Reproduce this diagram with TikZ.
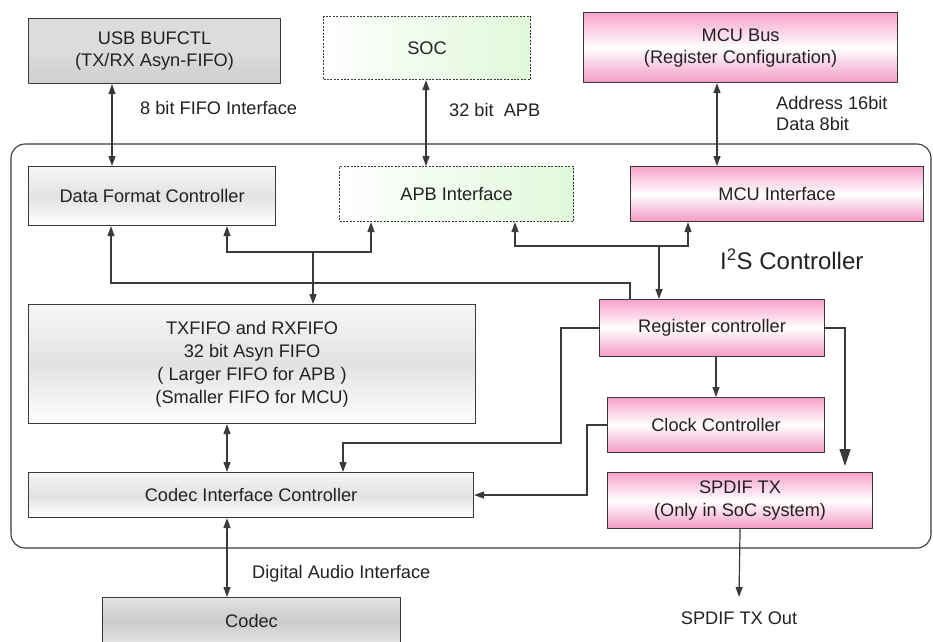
\documentclass[tikz,border=0pt]{standalone}
\usepackage{fontspec}
\setmainfont{Liberation Sans}
\usetikzlibrary{arrows.meta,calc}
\definecolor{bord}{HTML}{3A3A3A}
\definecolor{txt}{HTML}{222222}
\definecolor{gA}{HTML}{DCDCDC}
\definecolor{gB}{HTML}{CFCFCF}
\definecolor{lA}{HTML}{F7F7F7}
\definecolor{lB}{HTML}{E2E2E2}
\definecolor{cA}{HTML}{E4E4E4}
\definecolor{cB}{HTML}{CACACA}
\definecolor{pA}{HTML}{F8A2CC}
\definecolor{pB}{HTML}{F39AC6}
\definecolor{grn}{HTML}{E0F9DA}
\begin{document}
\begin{tikzpicture}[x=1pt,y=-1pt,
  >={Triangle[length=10pt,width=7pt]},
  blk/.style={draw=bord, line width=1.1pt, anchor=north west, inner sep=0pt,
    align=center, text=txt, font=\fontsize{18.2}{22}\selectfont},
  graybox/.style={blk, top color=gA, bottom color=gB, middle color=gA},
  litebox/.style={blk, top color=lA, bottom color=white, middle color=lB},
  codecbox/.style={blk, top color=cA, bottom color=cA, middle color=cB},
  pinkbox/.style={blk, top color=pA, bottom color=pB, middle color=white},
  greenbox/.style={blk, dash pattern=on 2pt off 1.4pt, left color=white, right color=grn},
  conn/.style={draw=bord, line width=1.2pt},
  lbl/.style={anchor=west, inner sep=0pt, text=txt, align=left, font=\fontsize{18.2}{21}\selectfont}
]
\useasboundingbox (0,0) rectangle (933,641);
\clip (0,0) rectangle (933,641);
\fill[white] (0,0) rectangle (933,641);

% outer I2S controller frame
\draw[draw=bord, line width=1.1pt, rounded corners=14pt] (11,144) rectangle (931,548);

% blocks
\node[graybox, minimum width=252pt, minimum height=65pt] (usb) at (28,18) {USB BUFCTL\\(TX/RX Asyn-FIFO)};
\node[greenbox, minimum width=207pt, minimum height=63pt] (soc) at (323,16) {SOC};
\node[pinkbox, minimum width=314pt, minimum height=70pt] (mcub) at (583,12) {MCU Bus\\(Register Configuration)};
\node[litebox, minimum width=247pt, minimum height=59pt] (dfc) at (28,166) {Data Format Controller};
\node[greenbox, minimum width=234pt, minimum height=55pt] (apb) at (339,166) {APB Interface};
\node[pinkbox, minimum width=293pt, minimum height=55pt] (mcui) at (630,166) {MCU Interface};
\node[litebox, minimum width=447pt, minimum height=119pt, font=\fontsize{18.2}{23}\selectfont] (txf) at (28,304)
  {TXFIFO and RXFIFO\\32 bit Asyn FIFO\\( Larger FIFO for APB )\\(Smaller FIFO for MCU)};
\node[pinkbox, minimum width=225pt, minimum height=57pt] (reg) at (599,299) {Register controller};
\node[pinkbox, minimum width=217pt, minimum height=55pt] (clk) at (607,397) {Clock Controller};
\node[litebox, minimum width=445pt, minimum height=45pt] (cic) at (28,472) {Codec Interface Controller};
\node[pinkbox, minimum width=265pt, minimum height=56pt, font=\fontsize{18.2}{23}\selectfont] (spdif) at (607,472) {SPDIF TX\\(Only in SoC system)};
\node[codecbox, minimum width=298pt, minimum height=46pt] (codec) at (102,597) {Codec};

% labels
\node[lbl] (l1) at (140,108) {8 bit FIFO Interface};
\node[lbl] (l2) at (449,110) {32 bit\ \ APB};
\node[lbl] (l3) at (776,113) {Address 16bit\\Data 8bit};
\node[lbl] (l4) at (252,574) {Digital Audio Interface};
\node[lbl, font=\fontsize{24}{28}\selectfont] (l5) at (720,259) {I\textsuperscript{2}S Controller};
\node[anchor=center, inner sep=0pt, text=txt, font=\fontsize{18.2}{21}\selectfont] (out) at (739,618) {SPDIF TX Out};

% helper coordinates
\coordinate (c111) at (111,0);
\coordinate (c112) at (112,0);
\coordinate (c227) at (227,0);
\coordinate (c343) at (343,0);
\coordinate (c371) at (371,0);
\coordinate (c426) at (426,0);
\coordinate (c515) at (515,0);
\coordinate (c630) at (630,0);
\coordinate (c688) at (688,0);
\coordinate (c716) at (716,0);
\coordinate (c717) at (717,0);
\coordinate (c845) at (845,0);
\coordinate (j1) at (313,252);
\coordinate (j2) at (659,246);
\coordinate (sout) at (739,597);

% external links
\draw[conn,<->] (usb.south -| c112) -- (dfc.north -| c112);
\draw[conn,<->] (soc.south -| c426) -- (apb.north -| c426);
\draw[conn,<->] (mcub.south -| c717) -- (mcui.north -| c717);

% internal bus tree 1
\draw[conn,->] (j1) -| (dfc.south -| c227);
\draw[conn,->] (j1) -| (apb.south -| c371);
\draw[conn,->] (j1) -- (txf.north -| j1);
\draw[conn,->] (reg.north -| c630) -- ++(0,-16) -| (dfc.south -| c111);

% internal bus tree 2
\draw[conn,->] (j2) -| (apb.south -| c515);
\draw[conn,->] (j2) -| (mcui.south -| c688);
\draw[conn,->] (j2) -- (reg.north -| j2);

% register / clock links
\draw[conn,->] (reg.south -| c716) -- (clk.north -| c716);
\draw[conn,->] (reg.west) -- ++(-38,0) -- ++(0,115) -| (cic.north -| c343);
\draw[conn,-{Triangle[length=17pt,width=11pt]}] (reg.east) -| ($(spdif.north -| c845)+(0,-6)$);
\draw[conn,->] (clk.west) -- ++(-20,0) |- (cic.east);

% data path
\draw[conn,<->] (txf.south -| c227) -- (cic.north -| c227);
\draw[conn,<->] (cic.south -| c227) -- (codec.north -| c227);
\draw[conn,->] (spdif.south) -- (sout);
\end{tikzpicture}
\end{document}
